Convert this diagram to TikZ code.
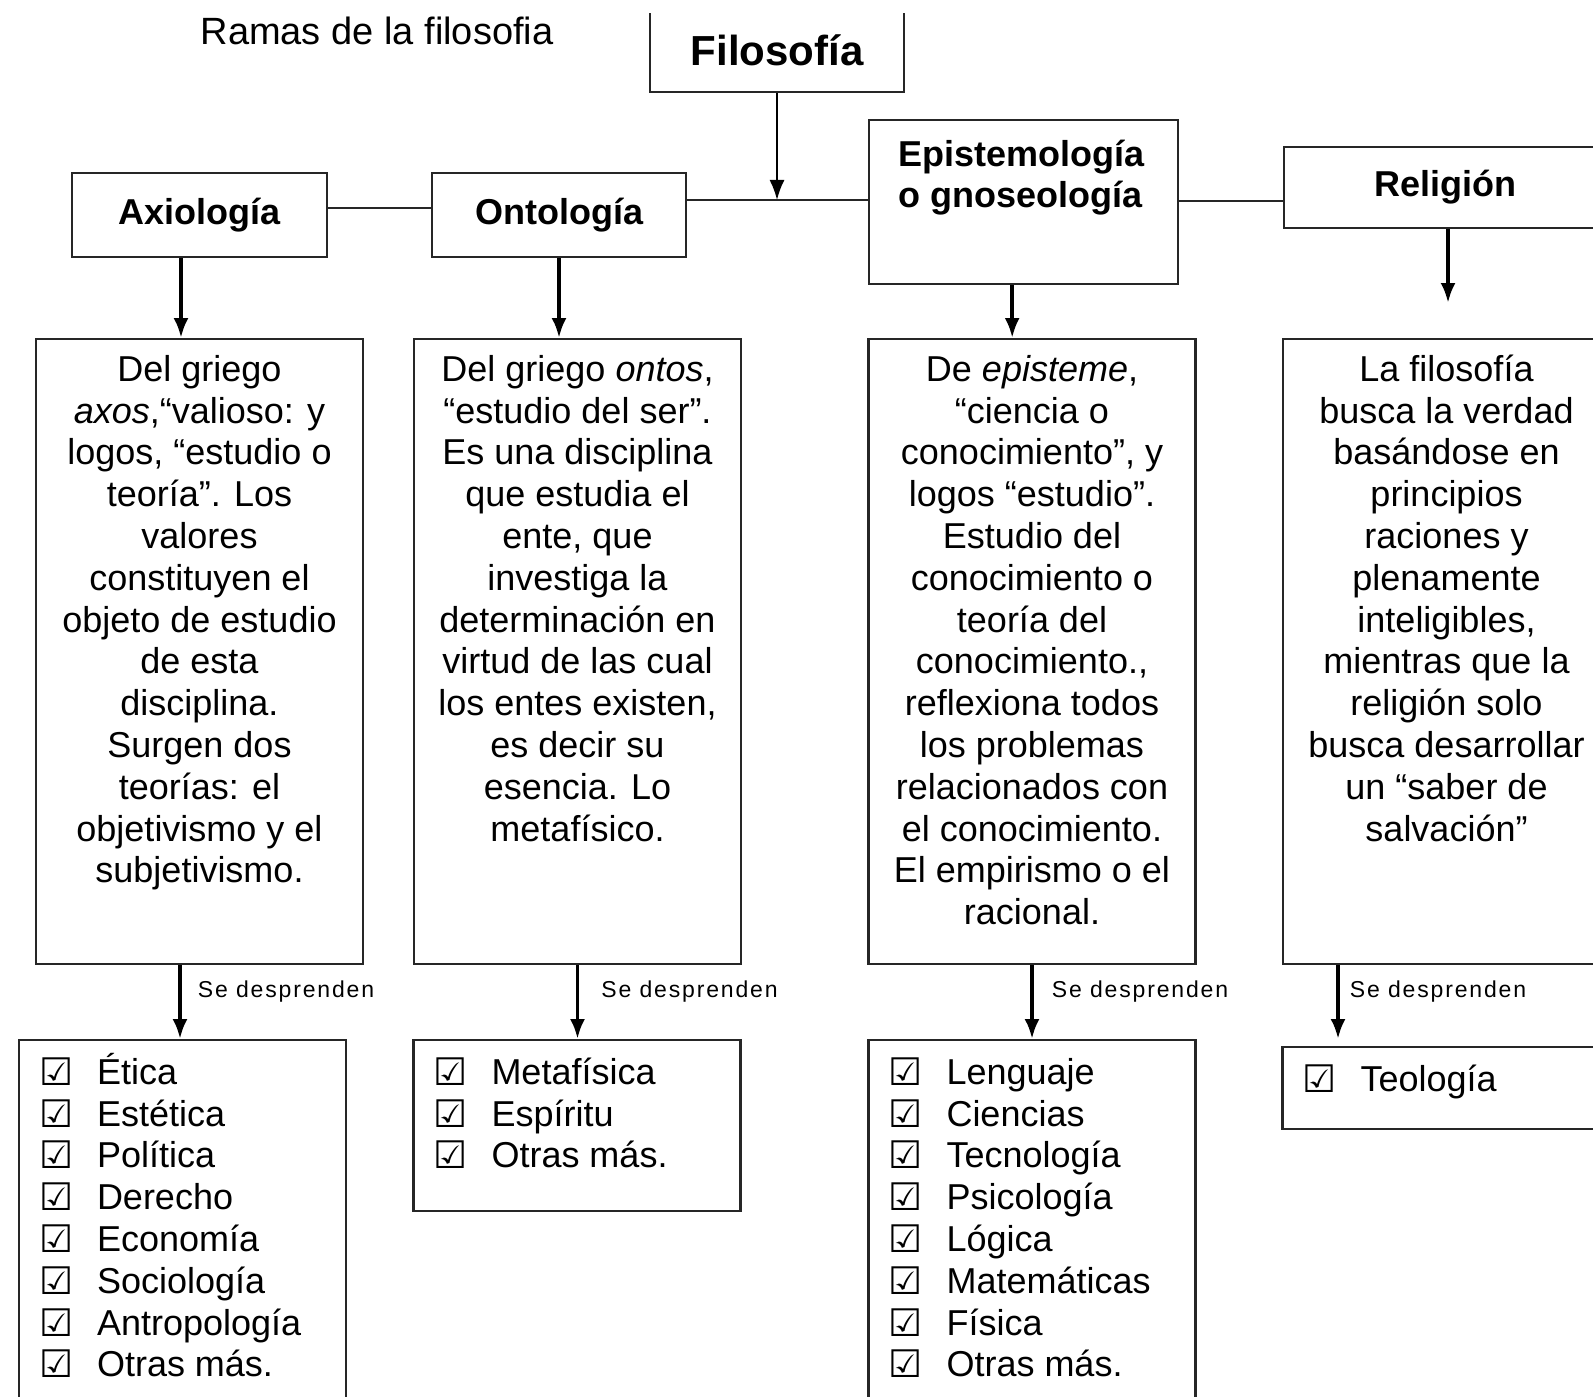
\documentclass[tikz,border=0pt]{standalone}
\usepackage{fontspec}
\setmainfont{Liberation Sans}
\newfontfamily\checkfont{DejaVu Sans Bold}
\newfontfamily\spacedfont[LetterSpace=8]{Liberation Sans}
\usetikzlibrary{arrows.meta,positioning}

\newcommand{\descfont}{\fontsize{18pt}{20.9pt}\selectfont}
\newcommand{\headfont}{\fontsize{18pt}{20.5pt}\selectfont\bfseries}
\newcommand{\labelfont}{\spacedfont\fontsize{11.5pt}{13pt}\selectfont}
\newcommand{\chk}{{\checkfont\fontsize{19pt}{19pt}\selectfont\raisebox{-0.5pt}{☑}}}
\newcommand{\chkitem}[1]{\hspace*{10pt}\makebox[29pt][l]{\chk}#1}
\newcommand{\descbox}[1]{\parbox[c][312.5pt][t]{163.5pt}{\centering\rule{0pt}{21pt}#1}}
\newcommand{\listbox}[2]{\parbox[c][#1][t]{163.5pt}{\raggedright\rule{0pt}{22pt}#2}}

\tikzstyle{block} = [draw=black!85, line width=1.2pt, rectangle, inner sep=0pt]
\tikzstyle{head-block} = [block, font=\headfont, minimum height=42pt]
\tikzstyle{desc-block} = [block, font=\descfont, anchor=north]
\tikzstyle{list-block} = [block, font=\descfont, anchor=north]
\tikzstyle{link-line} = [draw=black!85, line width=1.2pt]
\tikzstyle{branch-arrow} = [line width=1.9pt, -{Latex[length=10pt,width=7.5pt]}]
\tikzstyle{sub-label} = [font=\labelfont, inner sep=0pt, pos=0.36]

\begin{document}
\begin{tikzpicture}[x=0.5pt, y=-0.5pt]

	\useasboundingbox (0,0) rectangle (1593,1396);
	\clip (0,14) rectangle (1593,1396);

	\node [font=\fontsize{19pt}{22pt}\selectfont] (title) at (377,30.5) {Ramas de la filosofia};

	% heading boxes
	\node [head-block, minimum width=127pt, font=\fontsize{21pt}{24pt}\selectfont\bfseries] (Filo) at (777,50) {Filosofía};
	\node [head-block, minimum width=127.5pt] (Axi) at (199.5,215) {Axiología};
	\node [head-block, minimum width=127pt] (Ont) at (559,215) {Ontología};
	\node [block, font=\headfont, anchor=north west] (Epis) at (868,119) {\parbox[c][82pt][t]{154.5pt}{\leftskip=14.5pt\rule{0pt}{23pt}Epistemología\\o gnoseología}};
	\node [head-block, minimum width=161.5pt, minimum height=40.5pt] (Rel) at (1445.5,187.5) {Religión};
	\coordinate (hub) at (777,200);
	\coordinate (relEnd) at (1448,303);

	% description boxes
	\node [desc-block] (AxiD) at (199.5,338) {\descbox{Del griego\\
		\textit{axos},“valioso: y\\
		logos, “estudio o\\
		teoría”. Los\\
		valores\\
		constituyen el\\
		objeto de estudio\\
		de esta\\
		disciplina.\\
		Surgen dos\\
		teorías: el\\
		objetivismo y el\\
		subjetivismo.}};
	\node [desc-block] (OntD) at (577.5,338) {\descbox{Del griego \textit{ontos},\\
		“estudio del ser”.\\
		Es una disciplina\\
		que estudia el\\
		ente, que\\
		investiga la\\
		determinación en\\
		virtud de las cual\\
		los entes existen,\\
		es decir su\\
		esencia. Lo\\
		metafísico.}};
	\node [desc-block] (EpisD) at (1032,338) {\descbox{De \textit{episteme},\\
		“ciencia o\\
		conocimiento”, y\\
		logos “estudio”.\\
		Estudio del\\
		conocimiento o\\
		teoría del\\
		conocimiento.,\\
		reflexiona todos\\
		los problemas\\
		relacionados con\\
		el conocimiento.\\
		El empirismo o el\\
		racional.}};
	\node [desc-block] (RelD) at (1446.5,338) {\descbox{La filosofía\\
		busca la verdad\\
		basándose en\\
		principios\\
		raciones y\\
		plenamente\\
		inteligibles,\\
		mientras que la\\
		religión solo\\
		busca desarrollar\\
		un “saber de\\
		salvación”}};

	% lists
	\node [list-block] (AxiL) at (182.5,1039) {\listbox{190.5pt}{\chkitem{Ética}\\
		\chkitem{Estética}\\
		\chkitem{Política}\\
		\chkitem{Derecho}\\
		\chkitem{Economía}\\
		\chkitem{Sociología}\\
		\chkitem{Antropología}\\
		\chkitem{Otras más.}}};
	\node [list-block] (OntL) at (577,1039) {\listbox{85.5pt}{\chkitem{Metafísica}\\
		\chkitem{Espíritu}\\
		\chkitem{Otras más.}}};
	\node [list-block] (EpisL) at (1032,1039) {\listbox{190.5pt}{\chkitem{Lenguaje}\\
		\chkitem{Ciencias}\\
		\chkitem{Tecnología}\\
		\chkitem{Psicología}\\
		\chkitem{Lógica}\\
		\chkitem{Matemáticas}\\
		\chkitem{Física}\\
		\chkitem{Otras más.}}};
	\node [list-block] (RelL) at (1446,1046) {\listbox{41pt}{\chkitem{Teología}}};
	\coordinate (relListEnd) at (1338,1039);

	% links between headings
	\draw [link-line] ([yshift=3.5pt]Axi.east) -- ([yshift=3.5pt]Ont.west);
	\draw [link-line] ([yshift=7.5pt]Ont.east) -- ([yshift=7.5pt]Ont.east -| Epis.west);
	\draw [link-line] ([yshift=0.5pt]Epis.east) -- ([yshift=0.5pt]Epis.east -| Rel.west);
	\draw [branch-arrow, line width=1pt] (Filo.south) -- (hub);

	% headings to descriptions
	\draw [branch-arrow] ([xshift=-9.25pt]Axi.south) -- ([xshift=-9.25pt]AxiD.north);
	\draw [branch-arrow] (Ont.south) -- (Ont.south |- OntD.north);
	\draw [branch-arrow] ([xshift=-5.75pt]Epis.south) -- ([xshift=-5.75pt]Epis.south |- EpisD.north);
	\draw [branch-arrow] ([xshift=1.25pt]Rel.south) -- (relEnd);

	% descriptions to lists
	\draw [branch-arrow] ([xshift=-9.75pt]AxiD.south) -- node [sub-label, right=8pt] {Se desprenden} ([xshift=-9.75pt]AxiD.south |- AxiL.north);
	\draw [branch-arrow] (OntD.south) -- node [sub-label, right=11pt] {Se desprenden} (OntD.south |- OntL.north);
	\draw [branch-arrow] (EpisD.south) -- node [sub-label, right=9pt] {Se desprenden} (EpisD.south |- EpisL.north);
	\draw [branch-arrow] ([xshift=-54.25pt]RelD.south) -- node [sub-label, right=5pt] {Se desprenden} (relListEnd);

\end{tikzpicture}
\end{document}
